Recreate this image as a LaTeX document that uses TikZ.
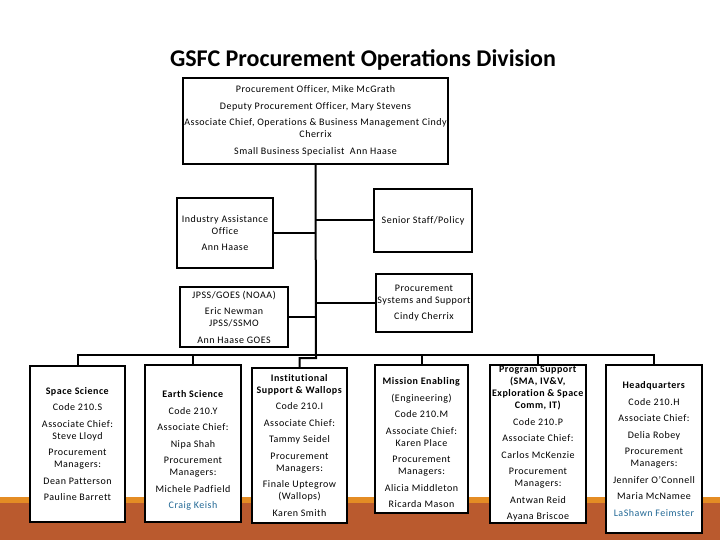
\documentclass[tikz,border=0pt]{standalone}
\usepackage{fontspec}
\setmainfont{Carlito}[LetterSpace=5,Ligatures=CommonOff]
\newfontfamily\titlefont{Carlito}
\definecolor{bandrust}{RGB}{186,90,46}
\definecolor{bandorange}{RGB}{228,140,36}
\definecolor{nameblue}{RGB}{35,105,150}
\newcommand{\orgbr}{\\[4.5pt]}
\begin{document}
\begin{tikzpicture}[x=1pt,y=-1pt,
  box/.style={draw, line width=2pt, fill=white, inner sep=0.5pt, align=center,
    font=\fontsize{10}{12}\selectfont},
  conn/.style={line width=2pt}]
\useasboundingbox (0,0) rectangle (720,540);
% bottom band
\fill[bandrust] (0,503) rectangle (720,540);
\fill[bandorange] (0,497) rectangle (720,503);
% title
\node[font=\titlefont\fontsize{24}{28}\selectfont\bfseries] (title) at (363,60) {GSFC Procurement Operations Division};
% top box
\node[box, minimum width=265pt, minimum height=86pt] (top) at (315.5,121)
 {Procurement Officer, Mike McGrath\orgbr
  Deputy Procurement Officer, Mary Stevens\orgbr
  Associate Chief, Operations \& Business Management Cindy\\
  Cherrix\orgbr
  Small Business Specialist\ \ Ann Haase};
% middle boxes
\node[box, minimum width=96pt, minimum height=70pt] (ia) at (225,233)
 {Industry Assistance\\ Office\orgbr Ann Haase};
\node[box, minimum width=98pt, minimum height=63pt] (sp) at (423,220.5)
 {Senior Staff/Policy};
\node[box, minimum width=108pt, minimum height=60pt] (jp) at (234,317)
 {JPSS/GOES (NOAA)\orgbr Eric Newman\\ JPSS/SSMO\orgbr Ann Haase GOES};
\node[box, minimum width=96pt, minimum height=58pt] (ps) at (424,303)
 {Procurement\\ Systems and Support\orgbr Cindy Cherrix};
% bottom boxes
\node[box, minimum width=95pt, minimum height=156pt] (space) at (77.5,444)
 {\textbf{Space Science}\orgbr Code 210.S\orgbr Associate Chief:\\ Steve Lloyd\orgbr
  Procurement\\ Managers:\orgbr Dean Patterson\orgbr Pauline Barrett};
\node[box, minimum width=96pt, minimum height=157pt] (earth) at (193,443.5)
 {\rule{0pt}{21pt}\textbf{Earth Science}\orgbr Code 210.Y\orgbr Associate Chief:\orgbr Nipa Shah\orgbr
  Procurement\\ Managers:\orgbr Michele Padfield\orgbr \textcolor{nameblue}{Craig Keish}};
\node[box, minimum width=95pt, minimum height=155pt] (inst) at (299.5,445.5)
 {\textbf{Institutional}\\ \textbf{Support \& Wallops}\orgbr Code 210.I\orgbr Associate Chief:\orgbr Tammy Seidel\orgbr
  Procurement\\ Managers:\orgbr Finale Uptegrow\\ (Wallops)\orgbr Karen Smith};
\node[box, minimum width=93pt, minimum height=148pt] (mis) at (421.5,439)
 {\rule{0pt}{15pt}\textbf{Mission Enabling}\orgbr (Engineering)\orgbr Code 210.M\orgbr Associate Chief:\\ Karen Place\orgbr
  Procurement\\ Managers:\orgbr Alicia Middleton\orgbr Ricarda Mason};
\node[box, minimum width=96pt, minimum height=158pt] (prog) at (538,444)
 {\textbf{Program Support}\\ \textbf{(SMA, IV\&V,}\\ \textbf{Exploration \& Space}\\ \textbf{Comm, IT)}\orgbr
  Code 210.P\orgbr Associate Chief:\orgbr Carlos McKenzie\orgbr Procurement\\ Managers:\orgbr Antwan Reid\orgbr Ayana Briscoe};
\node[box, minimum width=96pt, minimum height=168pt] (hq) at (654,449)
 {\textbf{Headquarters}\orgbr Code 210.H\orgbr Associate Chief:\orgbr Delia Robey\orgbr
  Procurement\\ Managers:\orgbr Jennifer O’Connell\orgbr Maria McNamee\orgbr \textcolor{nameblue}{LaShawn Feimster}};
% connectors
\coordinate (bus) at (316,355);
\coordinate (jog) at (316,358);
\draw[conn] (top.south) -- (jog) -| (inst.north);
\draw[conn] (ia.east) -- (ia.east -| top.south);
\draw[conn] (sp.west) -- (sp.west -| top.south);
\draw[conn] (jp.east) -- (jp.east -| top.south);
\draw[conn] (ps.west) -- (ps.west -| top.south);
\draw[conn] (space.north) |- (hq.north |- bus) -- (hq.north);
\draw[conn] (earth.north) -- (earth.north |- bus);
\draw[conn] (mis.north) -- (mis.north |- bus);
\draw[conn] (prog.north) -- (prog.north |- bus);
\end{tikzpicture}
\end{document}
